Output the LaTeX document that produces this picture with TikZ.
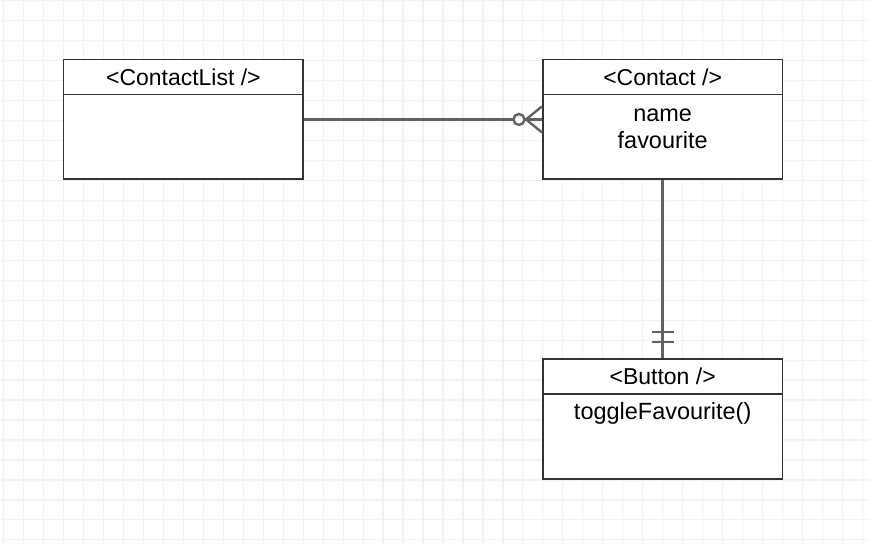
\documentclass[tikz,border=0pt]{standalone}
\usepackage{fontspec}
\setmainfont{Liberation Sans}
\usetikzlibrary{positioning, calc}
\colorlet{gridcol}{blue!6!white}
\colorlet{boxline}{black!80}
\colorlet{conncol}{black!62}
\tikzset{
  classbox/.style={draw=boxline, line width=1.8pt, fill=white, minimum width=240pt, minimum height=120pt, inner sep=0pt},
  headbox/.style={draw=boxline, line width=1.8pt, minimum width=240pt, minimum height=35pt, inner sep=0pt, font=\fontsize{23}{26}\selectfont},
  bodytext/.style={inner sep=0pt, anchor=base, font=\fontsize{23.5}{27}\selectfont},
  conn/.style={draw=conncol, line width=2.4pt}
}

\begin{document}
\begin{tikzpicture}[x=1pt, y=-1pt]

% background grid
\fill[white] (0,0) rectangle (870,544);
\foreach \gx in {3,23,...,870} \draw[gridcol, line width=1.2pt] (\gx,0) -- (\gx,544);
\foreach \gy in {0,20,...,544} \draw[gridcol, line width=1.2pt] (0,\gy) -- (870,\gy);
\useasboundingbox (0,0) rectangle (870,544);

% ContactList
\node[classbox] (list) at (183,119) {};
\node[headbox, anchor=north] (listhead) at (list.north) {<ContactList />};

% Contact
\node[classbox] (contact) at (663,119) {};
\node[headbox, anchor=north] (contacthead) at (contact.north) {<Contact />};
\node[bodytext] (name) at ($(contacthead.south)+(0,26)$) {name};
\node[bodytext] (fav) at ($(name.base)+(0,27)$) {favourite};

% Button
\node[classbox] (button) at (663,419) {};
\node[headbox, anchor=north] (buttonhead) at (button.north) {<Button />};
\node[bodytext] (toggle) at ($(buttonhead.south)+(0,25)$) {toggleFavourite()};

% ContactList -- zero or many Contact
\draw[conn] (list.east) -- (contact.west);
\draw[conn] ($(contact.west)+(-16,0)$) -- ($(contact.west)+(0,-13)$);
\draw[conn] ($(contact.west)+(-16,0)$) -- ($(contact.west)+(0,13)$);
\draw[conn, fill=white] ($(contact.west)+(-23,0)$) circle (5.5);

% Contact -- exactly one Button
\draw[conn] (contact.south) -- (button.north);
\draw[conn] ($(button.north)+(-11,-26)$) -- ++(22,0);
\draw[conn] ($(button.north)+(-11,-16)$) -- ++(22,0);

\end{tikzpicture}
\end{document}
